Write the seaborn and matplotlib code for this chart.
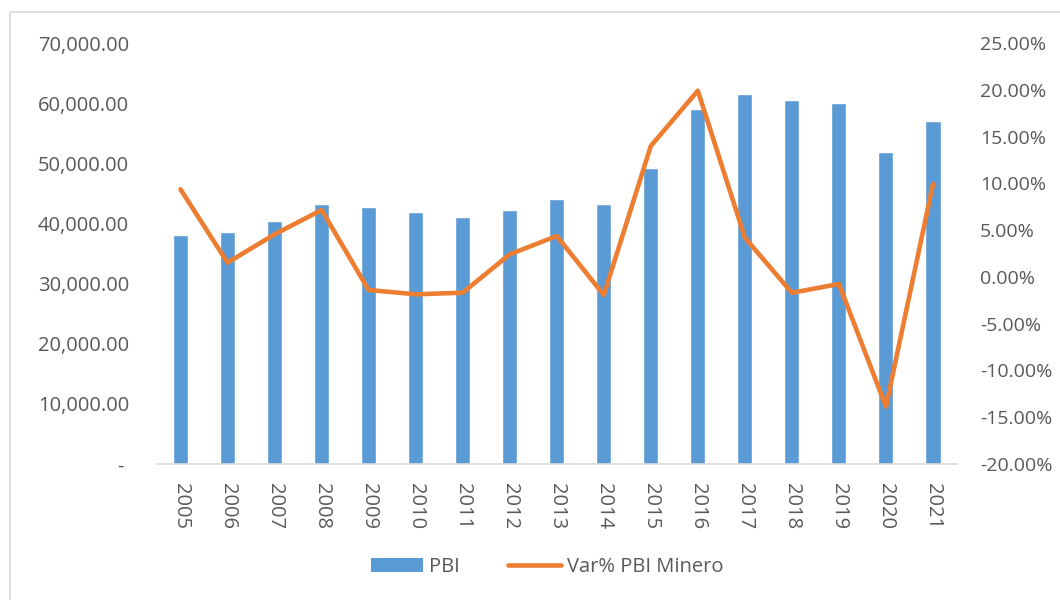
import numpy as np
import pandas as pd
import matplotlib
matplotlib.use("Agg")
import matplotlib.pyplot as plt
from matplotlib.patches import Rectangle
from matplotlib.lines import Line2D
from matplotlib.patches import Patch
import seaborn as sns

# Data
years = [str(y) for y in range(2005, 2022)]
pbi = [38000, 38600, 40400, 43200, 42700, 41850, 41100, 42200, 44000,
       43200, 49200, 59000, 61500, 60500, 60100, 51900, 57000]
var_pbi_minero = [9.36, 1.52, 4.55, 7.15, -1.4, -1.86, -1.69, 2.41, 4.37,
                  -1.93, 13.99, 19.9, 4.19, -1.7, -0.76, -13.87, 9.93]
left_ticks = [0, 10000, 20000, 30000, 40000, 50000, 60000, 70000]
right_ticks = [-20, -15, -10, -5, 0, 5, 10, 15, 20, 25]

df = pd.DataFrame({"year": years, "pos": np.arange(len(years)),
                   "pbi": pbi, "var": np.array(var_pbi_minero) / 100})

sns.set_style("white")
plt.rcParams['font.family'] = ['Open Sans', 'DejaVu Sans']
text_color = '#595959'
bar_color = '#5B9BD5'
line_color = '#ED7D31'

fig = plt.figure(figsize=(10.6, 6), dpi=100)
ax = fig.add_axes([157 / 1060, 1 - 464 / 600, (956.5 - 157) / 1060, (464 - 43) / 600])

# outer chart border
fig.patches.append(Rectangle((10 / 1060, -0.1), 1.2, 1 - 12 / 600 + 0.1,
                             transform=fig.transFigure, fill=False,
                             edgecolor='#d9d9d9', linewidth=1.2, zorder=0))

sns.barplot(data=df, x="year", y="pbi", color=bar_color, width=0.32,
            saturation=1, ax=ax, zorder=2)
ax.set_ylim(0, 70000)
ax.set_yticks(left_ticks)
ax.set_yticklabels(['- ' if v == 0 else f'{v:,.2f}' for v in left_ticks])
ax.set_xlim(-0.5, len(years) - 0.5)
ax.set_xlabel('')
ax.set_ylabel('')

ax2 = ax.twinx()
sns.lineplot(data=df, x="pos", y="var", color=line_color, linewidth=3.3,
             ax=ax2, zorder=3)
ax2.set_ylim(-0.20, 0.25)
ax2.set_yticks([v / 100 for v in right_ticks])
ax2.set_yticklabels([f'{v:.2f}%' for v in right_ticks])
ax2.set_ylabel('')
ax2.set_xlim(-0.5, len(years) - 0.5)

for a in (ax, ax2):
    for s in a.spines.values():
        s.set_visible(False)
ax.spines['bottom'].set_visible(True)
ax.spines['bottom'].set_color('#d9d9d9')
ax.spines['bottom'].set_linewidth(1.2)

ax.set_xticks(np.arange(len(years)))
ax.set_xticklabels(years, rotation=270)
ax.tick_params(axis='x', length=0, pad=14, labelsize=14.5, labelcolor=text_color)
ax.tick_params(axis='y', length=0, pad=20, labelsize=14.5, labelcolor=text_color)
ax2.tick_params(axis='y', length=0, pad=17, labelsize=14, labelcolor=text_color)

handles = [Patch(facecolor=bar_color, edgecolor='none'),
           Line2D([0], [0], color=line_color, linewidth=3.3, solid_capstyle='round')]
fig.legend(handles, ['PBI', 'Var% PBI Minero'], loc='center',
           bbox_to_anchor=(547 / 1060, 1 - 567 / 600), ncol=2, frameon=False,
           fontsize=14.5, labelcolor=text_color, handlelength=2.6,
           handleheight=0.7, columnspacing=2.4, handletextpad=0.3)

fig.savefig('out.png', dpi=100)
